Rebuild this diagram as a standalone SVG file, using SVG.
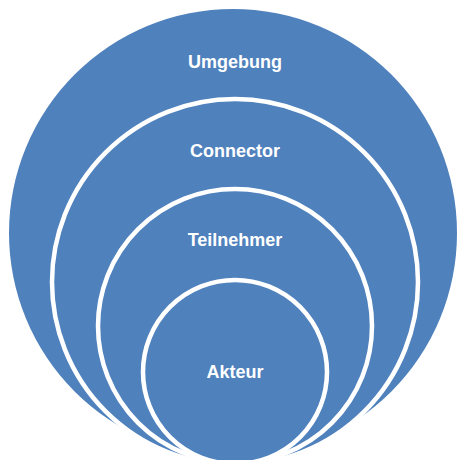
<svg xmlns="http://www.w3.org/2000/svg" width="457" height="460" viewBox="0 0 457 460">
  <style>
    .c { fill: #4F81BD; stroke: #FFFFFF; stroke-width: 4.5; }
    .o { fill: #4F81BD; }
    .t { fill: #FFFFFF; font-family: "Liberation Sans", Arial, sans-serif; font-weight: bold; font-size: 18px; text-anchor: middle; }
  </style>
  <rect width="457" height="460" fill="#FFFFFF"/>
  <g id="umgebung">
    <circle class="o" cx="233" cy="233" r="224"/>
    <text class="t" x="235" y="68">Umgebung</text>
  </g>
  <g id="connector">
    <circle class="c" cx="235" cy="282" r="183"/>
    <text class="t" x="235" y="157">Connector</text>
  </g>
  <g id="teilnehmer">
    <circle class="c" cx="235" cy="326" r="137"/>
    <text class="t" x="235" y="246">Teilnehmer</text>
  </g>
  <g id="akteur">
    <circle class="c" cx="235" cy="372" r="92"/>
    <text class="t" x="235" y="378">Akteur</text>
  </g>
  <g id="connectors"/>
</svg>
